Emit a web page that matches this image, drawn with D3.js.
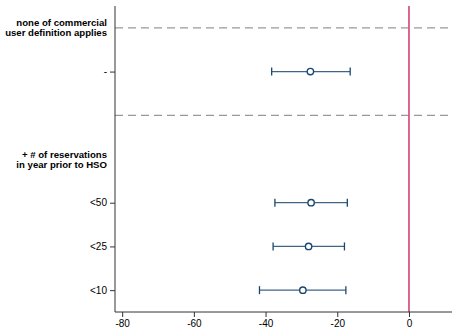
<!DOCTYPE html>
<html>
<head>
<meta charset="utf-8">
<script src="https://cdn.jsdelivr.net/npm/d3@7"></script>
<style>
  body { margin: 0; background: #fff; }
  text { font-family: "Liberation Sans", Arial, sans-serif; }
</style>
</head>
<body>
<div id="wrapper"></div>
<script>
// Data (positions on the y axis count from the bottom)
const labels = ["-", "<50", "<25", "<10"];
const labelPos = [6, 3, 2, 1];
const estimates = [-27.5, -27.3, -28.0, -29.6];
const ciLow = [-38.3, -37.4, -37.9, -41.7];
const ciHigh = [-16.4, -17.2, -18.0, -17.6];
const headings = [["none of commercial", "user definition applies"], ["+ # of reservations", "in year prior to HSO"]];
const headingPos = [7, 4];
const dividerPos = [7, 5];
const xTicks = [-80, -60, -40, -20, 0];

const rows = labels.map((l, i) => ({
  label: l, pos: labelPos[i], est: estimates[i], lo: ciLow[i], hi: ciHigh[i]
}));

const dimensions = {
  width: 453,
  height: 333,
  margin: { top: 6, right: 1, bottom: 21, left: 115 },
};
dimensions.boundedWidth = dimensions.width - dimensions.margin.left - dimensions.margin.right;
dimensions.boundedHeight = dimensions.height - dimensions.margin.top - dimensions.margin.bottom;

const svg = d3.select("#wrapper")
  .append("svg")
    .attr("width", dimensions.width)
    .attr("height", dimensions.height);

const bounds = svg.append("g")
  .attr("transform", `translate(${dimensions.margin.left},${dimensions.margin.top})`);

const xScale = d3.scaleLinear()
  .domain([-82, 12])
  .range([0, dimensions.boundedWidth]);

const yScale = d3.scaleLinear()
  .domain([0.5, 7.5])
  .range([dimensions.boundedHeight, 0]);

const navy = "#1a476f";

// dashed dividers
bounds.selectAll(".divider")
  .data(dividerPos)
  .join("line")
    .attr("x1", 0)
    .attr("x2", dimensions.boundedWidth)
    .attr("y1", d => yScale(d))
    .attr("y2", d => yScale(d))
    .attr("stroke", "#999")
    .attr("stroke-width", 1.2)
    .attr("stroke-dasharray", "8,5");

// zero reference line
bounds.append("line")
  .attr("x1", xScale(0))
  .attr("x2", xScale(0))
  .attr("y1", 0)
  .attr("y2", dimensions.boundedHeight)
  .attr("stroke", "#d9577f")
  .attr("stroke-width", 1.8);

// confidence intervals
const ci = bounds.selectAll(".ci")
  .data(rows)
  .join("g");

ci.append("line")
  .attr("x1", d => xScale(d.lo))
  .attr("x2", d => xScale(d.hi))
  .attr("y1", d => yScale(d.pos))
  .attr("y2", d => yScale(d.pos))
  .attr("stroke", "#3f6488")
  .attr("stroke-width", 1.3);

ci.selectAll(".cap")
  .data(d => [d.lo, d.hi].map(v => ({ v, pos: d.pos })))
  .join("line")
    .attr("x1", d => xScale(d.v))
    .attr("x2", d => xScale(d.v))
    .attr("y1", d => yScale(d.pos) - 4)
    .attr("y2", d => yScale(d.pos) + 4)
    .attr("stroke", navy)
    .attr("stroke-width", 1.3);

ci.append("circle")
  .attr("cx", d => xScale(d.est))
  .attr("cy", d => yScale(d.pos))
  .attr("r", 3.2)
  .attr("fill", "#fff")
  .attr("stroke", navy)
  .attr("stroke-width", 1.4);

// x axis
const xAxis = bounds.append("g")
  .attr("transform", `translate(0,${dimensions.boundedHeight})`)
  .call(d3.axisBottom(xScale).tickValues(xTicks).tickSize(5).tickPadding(3)
    .tickFormat(d3.format("d")));
xAxis.select(".domain").attr("stroke", "#333").attr("d", `M0,0H${dimensions.boundedWidth}`);
xAxis.selectAll(".tick line").attr("stroke", "#333");
xAxis.selectAll("text").attr("font-size", 10).attr("fill", "#000")
  .text(d => d < 0 ? "-" + Math.abs(d) : d);

// y axis
const yAxis = bounds.append("g")
  .call(d3.axisLeft(yScale).tickValues(labelPos).tickSize(5).tickPadding(3)
    .tickFormat((d, i) => labels[i]));
yAxis.select(".domain").attr("stroke", "#333").attr("d", `M0,0V${dimensions.boundedHeight}`);
yAxis.selectAll(".tick line").attr("stroke", "#333");
yAxis.selectAll("text").attr("font-size", 10).attr("fill", "#000");

// headings (two lines each, right aligned at the axis)
const headingLines = headings.flatMap((h, i) =>
  h.map((t, j) => ({ text: t, pos: headingPos[i], line: j })));
bounds.selectAll(".heading")
  .data(headingLines)
  .join("text")
    .attr("x", -8)
    .attr("y", d => yScale(d.pos) + (d.line === 0 ? -1.5 : 8.5))
    .attr("text-anchor", "end")
    .attr("font-size", 9.6)
    .attr("font-weight", "bold")
    .attr("fill", "#000")
    .text(d => d.text);
</script>
</body>
</html>
